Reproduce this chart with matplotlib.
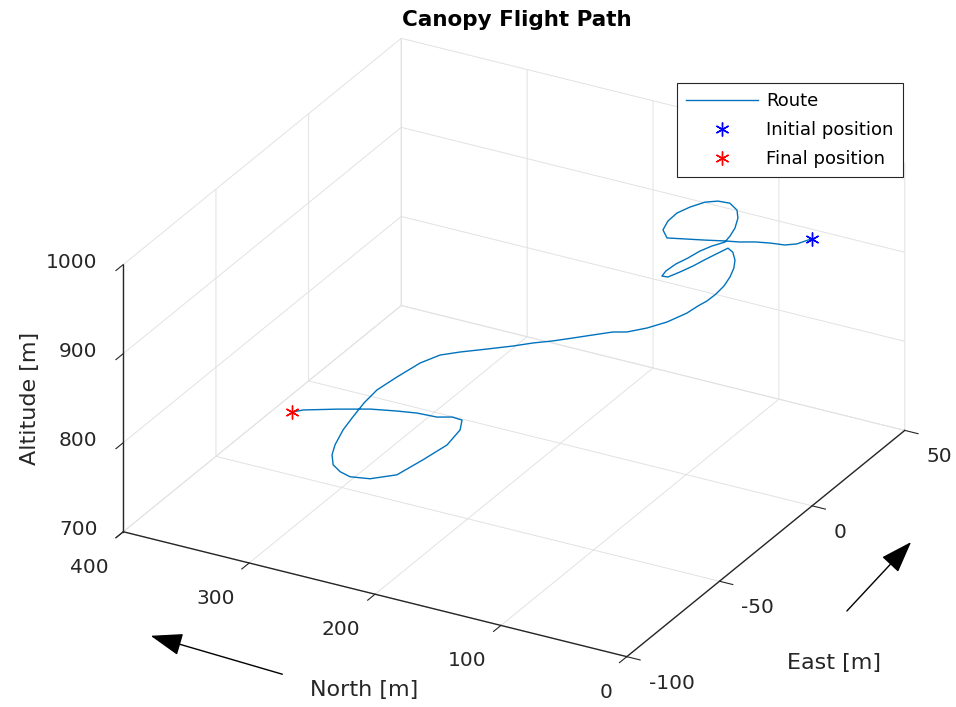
import matplotlib
matplotlib.use("Agg")
import matplotlib.pyplot as plt
from matplotlib.patches import FancyArrowPatch

plt.rcParams['axes.unicode_minus'] = False

# flight log: east / north offsets from the exit point and altitude
east = [0.0, -3.3, -4.1, -3.4, -3.2, -3.6, -3.4, -3.4, -3.3, -3.2,
        1.3, 7.5, 13.9, 20.1, 26.1, 29.6, 31.3, 29.7, 26.6, 22.2,
        18.5, 15.6, 13.4, 10.6, 7.0, 3.8, 0.3, -2.1, -1.2, 4.2,
        10.3, 17.0, 22.9, 27.9, 27.1, 24.2, 20.8, 16.8, 12.6, 8.7,
        5.2, 2.5, -1.1, -5.9, -9.3, -11.7, -12.1, -14.0, -16.0, -17.9,
        -19.4, -21.4, -23.5, -25.6, -27.6, -31.9, -39.1, -45.8, -52.1, -59.2,
        -64.9, -71.8, -76.2, -80.1, -81.7, -81.9, -78.3, -70.1, -56.1, -42.6,
        -31.3, -25.0, -23.6, -24.0, -22.4, -21.8, -21.4, -22.2, -23.4, -24.7]
north = [0.0, 7.4, 15.7, 28.6, 40.8, 52.2, 64.3, 80.2, 96.2, 110.6,
         120.4, 125.6, 127.9, 126.6, 123.6, 118.4, 111.4, 103.4, 98.1, 94.0,
         92.5, 92.3, 99.3, 104.8, 109.0, 113.9, 116.6, 116.2, 112.8, 111.1,
         109.9, 109.4, 108.6, 107.9, 102.9, 96.9, 92.8, 90.0, 88.6, 89.2,
         91.2, 94.5, 97.9, 106.7, 117.5, 129.8, 140.5, 153.4, 166.4, 179.4,
         193.1, 206.1, 223.7, 242.0, 255.0, 264.4, 272.1, 278.2, 279.2, 278.2,
         277.0, 273.3, 269.2, 262.6, 254.7, 246.5, 235.9, 226.6, 226.5, 227.3,
         233.6, 241.3, 251.2, 262.6, 280.9, 297.6, 319.6, 344.7, 369.8, 376.7]
alt = [1000.0, 997.0, 994.3, 990.8, 987.4, 984.0, 980.6, 976.0, 971.5, 967.4,
       965.4, 963.0, 960.3, 957.0, 953.4, 950.5, 947.7, 945.4, 943.6, 941.2,
       939.1, 937.3, 934.2, 931.3, 928.1, 925.1, 922.3, 920.8, 919.4, 916.5,
       913.2, 909.8, 906.8, 904.2, 902.8, 900.9, 899.1, 896.9, 894.4, 891.8,
       889.2, 886.9, 883.9, 878.9, 874.2, 869.5, 866.4, 861.8, 857.2, 852.6,
       848.0, 843.4, 837.4, 831.2, 826.6, 821.7, 815.6, 810.2, 806.0, 801.6,
       798.2, 794.3, 792.0, 789.7, 787.4, 784.9, 780.3, 774.1, 767.3, 760.8,
       756.3, 754.0, 751.6, 748.2, 743.6, 739.0, 732.8, 725.3, 717.6, 715.0]

east_ticks = [-100, -50, 0, 50]
north_ticks = [0, 100, 200, 300, 400]
alt_ticks = [700, 800, 900, 1000]

W, H = 956, 707
fig = plt.figure(figsize=(W / 100, H / 100), dpi=100)
ax = fig.add_axes([0.0277, -0.005, 1, 1], projection='3d')

ax.plot(east, north, alt, color='#0072BD', lw=1.0, label='Route')
ax.plot(east[:1], north[:1], alt[:1], ls='none', marker=(6, 2, 0), ms=10,
        mew=1.0, color='b', label='Initial position')
ax.plot(east[-1:], north[-1:], alt[-1:], ls='none', marker=(6, 2, 0), ms=10,
        mew=1.0, color='r', label='Final position')

ax.set_xlim(-100, 50)
ax.set_ylim(0, 400)
ax.set_zlim(700, 1000)
ax.set_xticks(east_ticks)
ax.set_yticks(north_ticks)
ax.set_zticks(alt_ticks)
ax.set_proj_type('ortho')
ax.view_init(elev=26.7, azim=-151.1)
ax.set_box_aspect((1, 1, 0.52), zoom=1.19)

for axis in (ax.xaxis, ax.yaxis, ax.zaxis):
    axis.set_pane_color((1, 1, 1, 0))
    axis.pane.set_edgecolor('#d0d0d0')
    axis.line.set_color('#262626')
    axis.line.set_linewidth(1.0)
    axis._axinfo['grid'].update(color='#e2e2e2', linewidth=0.7)
    axis._axinfo['tick'].update(inward_factor=0.33, outward_factor=0.0)
ax.tick_params(labelsize=14.5, colors='#262626')
ax.tick_params(axis='y', pad=6)
ax.tick_params(axis='z', pad=0.7)
plt.setp(ax.get_xticklabels(), ha='left')
plt.setp(ax.get_yticklabels(), ha='right')
plt.setp(ax.get_zticklabels(), ha='right', va='baseline')

# titles and axis names sit in figure space, MATLAB style
fig.text(517 / W, 1 - 20 / H, 'Canopy Flight Path', ha='center', va='center',
         fontsize=15.5, fontweight='bold', color='black')
fig.text(30 / W, 1 - 398 / H, 'Altitude [m]', rotation=90, ha='center',
         va='center', fontsize=16, color='#262626')
fig.text(364 / W, 1 - 690 / H, 'North [m]', ha='center', va='center',
         fontsize=16, color='#262626')
fig.text(834 / W, 1 - 663 / H, 'East [m]', ha='center', va='center',
         fontsize=16, color='#262626')

# direction arrows next to the horizontal axes
for tail, head in [((285, 675), (148, 635)), ((845, 613), (913, 540))]:
    arrow = FancyArrowPatch((tail[0] / W, 1 - tail[1] / H),
                            (head[0] / W, 1 - head[1] / H),
                            transform=fig.transFigure,
                            arrowstyle='-|>,head_length=1.0,head_width=0.35',
                            mutation_scale=20, color='black', lw=1.0)
    fig.add_artist(arrow)

leg = ax.legend(loc='upper right', bbox_to_anchor=(903 / W, 1 - 83 / H),
                bbox_transform=fig.transFigure, borderaxespad=0,
                fancybox=False, framealpha=1, edgecolor='#262626',
                fontsize=13, handlelength=4.0, borderpad=0.52,
                labelspacing=0.6, handletextpad=0.45)
leg.get_frame().set_linewidth(0.8)

fig.savefig("out.png", dpi=100)
